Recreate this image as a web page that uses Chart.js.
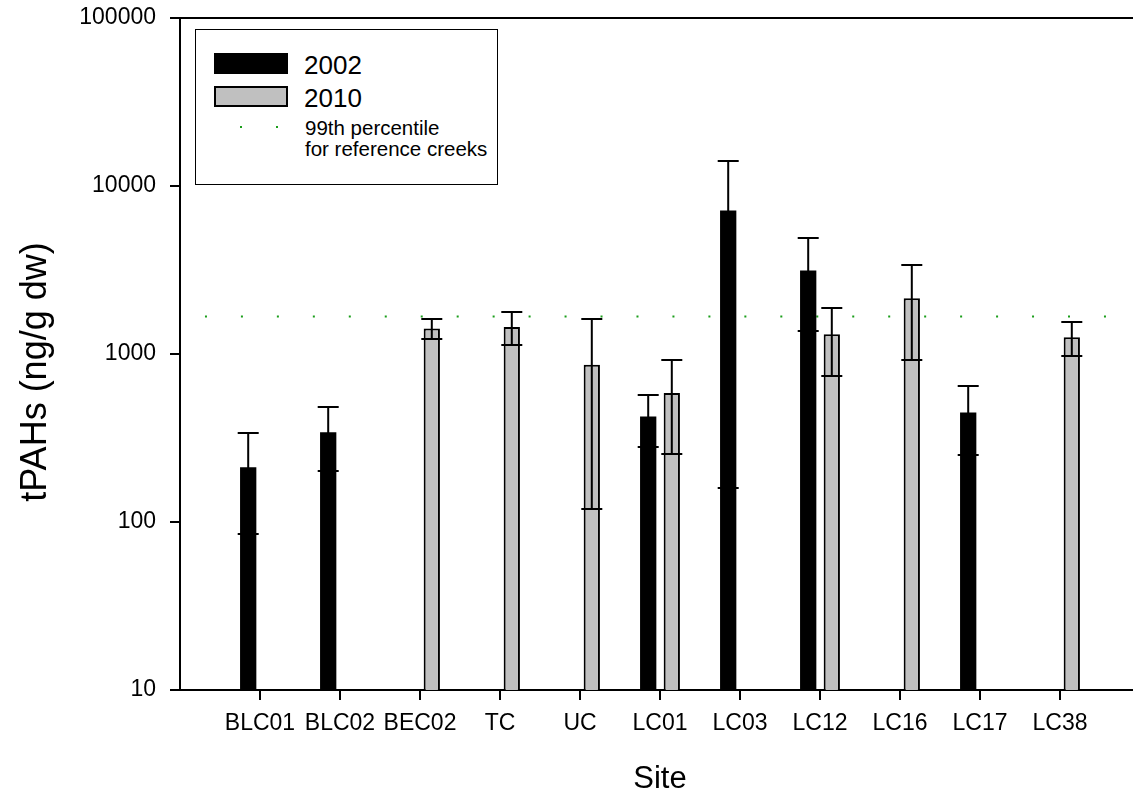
<!DOCTYPE html>
<html>
<head>
<meta charset="utf-8">
<title>tPAHs by site</title>
<script src="https://cdn.jsdelivr.net/npm/chart.js@4/dist/chart.umd.min.js"></script>
<style>
  html, body { margin: 0; padding: 0; overflow: hidden; background: #fff; width: 1133px; height: 798px; }
  #wrap { position: relative; width: 1150px; height: 798px; font-family: 'Liberation Sans', Arial, sans-serif; color: #000; }
  #c { position: absolute; left: 0; top: 0; }
  #ytitle { position: absolute; left: -166px; top: 354px; width: 400px; height: 36px; line-height: 36px;
            font-size: 36px; text-align: center; transform: rotate(-90deg); white-space: nowrap; }
  #legend { position: absolute; left: 195px; top: 29px; width: 303px; height: 156px;
            border: 1.5px solid #000; box-sizing: border-box; background: #fff; }
  .sw { position: absolute; box-sizing: border-box; }
  .lt { position: absolute; white-space: nowrap; }
  .dot { position: absolute; width: 2px; height: 2px; }
</style>
</head>
<body>
<div id="wrap">
  <canvas id="c" width="1150" height="798"></canvas>
  <div id="ytitle">tPAHs (ng/g dw)</div>
  <div id="legend"></div>
</div>
<script>
// Sites along the x axis
const sites = ['BLC01', 'BLC02', 'BEC02', 'TC', 'UC', 'LC01', 'LC03', 'LC12', 'LC16', 'LC17', 'LC38'];

// Mean total PAHs (ng/g dry weight) and standard deviations per sampling year
const tpah2002 = [212, 342, null, null, null, 424, 7150, 3140, null, 449, null];
const sd2002   = [127, 141, null, null, null, 143, 6990, 1760, null, 197, null];
const tpah2010 = [null, null, 1420, 1450, 864, 586, null, 1310, 2150, null, 1260];
const sd2010   = [null, null, 197, 320, 745, 333, null, 575, 1235, null, 285];

// 99th percentile for reference creeks
const refLevel = 1670;

// Log axis ticks
const yTicks = [10, 100, 1000, 10000, 100000];

const seriesNames = ['2002', '2010'];
const refLabel = ['99th percentile', 'for reference creeks'];

const colors = { y2002: '#000000', y2010: '#c0c0c0', ref: '#1a9e1a' };

// One empty slot either side of the sites keeps them off the frame
const pad = arr => [null, ...arr, null];
const axisLabels = ['', ...sites, ''];
const errorSets = [pad(sd2002), pad(sd2010)];

Chart.defaults.font.family = "'Liberation Sans', Arial, sans-serif";
Chart.defaults.color = '#000';

// Draws mean ± SD whiskers on the bar elements
const errorBars = {
  id: 'errorBars',
  afterDatasetsDraw(chart) {
    const { ctx } = chart;
    const yScale = chart.scales.y;
    const half = 10.5;
    ctx.save();
    ctx.strokeStyle = '#000';
    ctx.lineWidth = 2;
    errorSets.forEach((errs, di) => {
      const meta = chart.getDatasetMeta(di);
      const values = chart.data.datasets[di].data;
      meta.data.forEach((bar, i) => {
        const v = values[i], e = errs[i];
        if (v == null || e == null) return;
        const yHi = Math.round(yScale.getPixelForValue(v + e));
        const yLo = Math.round(yScale.getPixelForValue(v - e));
        const x = bar.x;
        ctx.beginPath();
        ctx.moveTo(x, yHi); ctx.lineTo(x, yLo);
        ctx.moveTo(x - half, yHi); ctx.lineTo(x + half, yHi);
        ctx.moveTo(x - half, yLo); ctx.lineTo(x + half, yLo);
        ctx.stroke();
      });
    });
    ctx.restore();
  }
};

const chart = new Chart(document.getElementById('c'), {
  type: 'bar',
  data: {
    labels: axisLabels,
    datasets: [
      {
        label: seriesNames[0],
        data: pad(tpah2002),
        backgroundColor: colors.y2002,
        borderColor: '#000',
        borderWidth: 0,
        categoryPercentage: 0.59,
        barPercentage: 0.69,
        order: 1
      },
      {
        label: seriesNames[1],
        data: pad(tpah2010),
        backgroundColor: colors.y2010,
        borderColor: '#000',
        borderWidth: 2,
        borderSkipped: 'start',
        categoryPercentage: 0.59,
        barPercentage: 0.69,
        order: 1
      },
      {
        type: 'line',
        label: refLabel.join(' '),
        data: axisLabels.map(() => refLevel),
        borderColor: colors.ref,
        borderWidth: 2,
        borderDash: [2, 33.96],
        borderDashOffset: 11,
        borderCapStyle: 'butt',
        pointRadius: 0,
        fill: false,
        order: 2
      }
    ]
  },
  options: {
    responsive: false,
    animation: false,
    devicePixelRatio: 1,
    layout: { padding: { left: 0, top: 18, right: 10, bottom: 0 } },
    plugins: { legend: { display: false }, tooltip: { enabled: false } },
    scales: {
      x: {
        type: 'category',
        offset: false,
        border: { display: true, color: '#000', width: 2 },
        grid: {
          offset: false,
          drawOnChartArea: false,
          drawTicks: true,
          tickLength: 10,
          lineWidth: 2,
          tickColor: ctx => (ctx.index === 0 || ctx.index === axisLabels.length - 1) ? 'rgba(0,0,0,0)' : '#000'
        },
        ticks: { autoSkip: false, maxRotation: 0, minRotation: 0, font: { size: 23 }, padding: 10, color: '#000' },
        title: { display: true, text: 'Site', font: { size: 31 }, padding: 0, color: '#000' },
        afterFit: s => { s.height = 108; s.paddingLeft = 0; s.paddingRight = 0; }
      },
      xTop: {
        type: 'linear',
        position: 'top',
        border: { display: true, color: '#000', width: 2 },
        grid: { display: false, drawTicks: false },
        ticks: { display: false },
        afterFit: s => { s.height = 0; s.paddingLeft = 0; s.paddingRight = 0; }
      },
      y: {
        type: 'logarithmic',
        min: yTicks[0],
        max: yTicks[yTicks.length - 1],
        border: { display: true, color: '#000', width: 2 },
        grid: { drawOnChartArea: false, drawTicks: true, tickLength: 10, lineWidth: 2, color: '#000' },
        ticks: { font: { size: 23 }, padding: 14, color: '#000', callback: v => String(v) },
        afterBuildTicks: s => { s.ticks = yTicks.map(v => ({ value: v })); },
        afterFit: s => { s.width = 180; s.paddingTop = 0; s.paddingBottom = 0; }
      }
    }
  },
  plugins: [errorBars]
});

// Legend box with swatches for each year and the reference level
(function buildLegend() {
  const wrap = document.getElementById('wrap');
  const add = (cls, css, text) => {
    const el = document.createElement('div');
    el.className = cls;
    Object.assign(el.style, css);
    if (text) el.textContent = text;
    wrap.appendChild(el);
    return el;
  };
  const ds = chart.data.datasets;
  add('sw', { left: '214px', top: '53px', width: '74px', height: '21px', background: ds[0].backgroundColor });
  add('sw', { left: '214px', top: '86px', width: '74px', height: '21px', background: ds[1].backgroundColor, border: '2px solid #000' });
  add('lt', { left: '304px', top: '52px', fontSize: '26px', lineHeight: '26px' }, ds[0].label);
  add('lt', { left: '304px', top: '85px', fontSize: '26px', lineHeight: '26px' }, ds[1].label);
  add('dot', { left: '240px', top: '126px', background: colors.ref });
  add('dot', { left: '276px', top: '126px', background: colors.ref });
  add('lt', { left: '305px', top: '117px', fontSize: '20.5px', lineHeight: '21px' }, refLabel[0]);
  add('lt', { left: '305px', top: '138px', fontSize: '20.5px', lineHeight: '21px' }, refLabel[1]);
})();
</script>
</body>
</html>
